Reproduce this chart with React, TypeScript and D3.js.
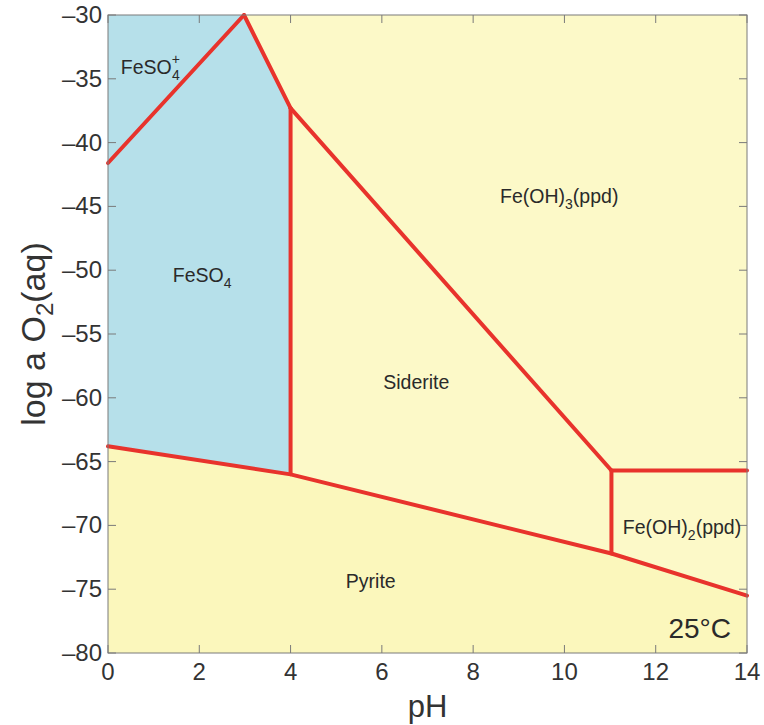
import React, { useRef, useEffect } from 'react';
import * as d3 from 'd3';

// boundary lines, [pH, log a O2(aq)]
const feso4PlusLine: [number, number][] = [[0, -41.6], [2.98, -30]];
const topBreakLine: [number, number][] = [[2.98, -30], [4, -37.3]];
const ph4Line: [number, number][] = [[4, -37.3], [4, -66.0]];
const sideriteOxLine: [number, number][] = [[4, -37.3], [11.03, -65.7]];
const feoh2TopLine: [number, number][] = [[11.03, -65.7], [14, -65.7]];
const feoh2LeftLine: [number, number][] = [[11.03, -65.7], [11.03, -72.2]];
const pyriteLine: [number, number][] = [[0, -63.8], [4, -66.0], [11.03, -72.2], [14, -75.5]];

// blue field (FeSO4+ and FeSO4)
const blueField: [number, number][] = [[0, -30], [2.98, -30], [4, -37.3], [4, -66.0], [0, -63.8]];

const xTicks = [0, 2, 4, 6, 8, 10, 12, 14];
const yTicks = [-30, -35, -40, -45, -50, -55, -60, -65, -70, -75, -80];

const fieldLabels = [
  { name: 'FeSO', sub: '4', sup: '+', pH: 0.28, o2: -34.6 },
  { name: 'FeSO', sub: '4', sup: '', pH: 1.42, o2: -50.9 },
  { name: 'Siderite', sub: '', sup: '', pH: 6.03, o2: -59.3 },
  { name: 'Fe(OH)', sub: '3', sup: '', pH: 8.59, o2: -44.7, tail: '(ppd)' },
  { name: 'Fe(OH)', sub: '2', sup: '', pH: 11.28, o2: -70.7, tail: '(ppd)' },
  { name: 'Pyrite', sub: '', sup: '', pH: 5.21, o2: -74.9 },
];

export default function App() {
  const svgRef = useRef<SVGSVGElement>(null);

  useEffect(() => {
    if (!svgRef.current) return;
    const svg = d3.select(svgRef.current);
    svg.selectAll('*').remove();

    const left = 108, right = 747, top = 15, bottom = 653;
    const x = d3.scaleLinear().domain([0, 14]).range([left, right]);
    const y = d3.scaleLinear().domain([-80, -30]).range([bottom, top]);
    const font = '"Liberation Sans", Arial, sans-serif';

    // background fields
    svg.append('rect')
      .attr('x', left).attr('y', top)
      .attr('width', right - left).attr('height', bottom - top)
      .attr('fill', '#fcf9c8');

    const pyriteField: [number, number][] = [...pyriteLine, [14, -80], [0, -80]];
    const area = d3.line<[number, number]>().x(d => x(d[0])).y(d => y(d[1]));
    svg.append('path').attr('d', area(pyriteField) + 'Z').attr('fill', '#fbf7bc');
    svg.append('path').attr('d', area(blueField) + 'Z').attr('fill', '#b6e0ea');

    // ticks, inward on all four sides
    const tickColor = '#7a7a7a';
    const g = svg.append('g');
    xTicks.forEach(t => {
      g.append('line').attr('x1', x(t)).attr('x2', x(t)).attr('y1', bottom).attr('y2', bottom - 8)
        .attr('stroke', tickColor);
      g.append('line').attr('x1', x(t)).attr('x2', x(t)).attr('y1', top).attr('y2', top + 8)
        .attr('stroke', tickColor);
      g.append('text').attr('x', x(t)).attr('y', bottom + 27)
        .attr('text-anchor', 'middle').attr('font-size', 24).attr('fill', '#333')
        .attr('font-family', font).text(t);
    });
    yTicks.forEach(t => {
      g.append('line').attr('x1', left).attr('x2', left + 8).attr('y1', y(t)).attr('y2', y(t))
        .attr('stroke', tickColor);
      g.append('line').attr('x1', right).attr('x2', right - 8).attr('y1', y(t)).attr('y2', y(t))
        .attr('stroke', tickColor);
      g.append('text').attr('x', left - 6).attr('y', y(t) + 8)
        .attr('text-anchor', 'end').attr('font-size', 24).attr('fill', '#333')
        .attr('font-family', font).text('\u2013' + Math.abs(t));
    });

    // boundaries
    const lines = [feso4PlusLine, topBreakLine, ph4Line, sideriteOxLine, feoh2TopLine, feoh2LeftLine, pyriteLine];
    lines.forEach(l => {
      svg.append('path').attr('d', area(l)).attr('fill', 'none')
        .attr('stroke', '#e8332c').attr('stroke-width', 4)
        .attr('stroke-linejoin', 'round').attr('stroke-linecap', 'round');
    });

    // frame
    svg.append('rect')
      .attr('x', left).attr('y', top)
      .attr('width', right - left).attr('height', bottom - top)
      .attr('fill', 'none').attr('stroke', tickColor).attr('stroke-width', 1);

    // field labels
    fieldLabels.forEach(f => {
      const t = svg.append('text').attr('x', x(f.pH)).attr('y', y(f.o2))
        .attr('font-size', 19.5).attr('fill', '#2a2a2a').attr('font-family', font);
      t.append('tspan').text(f.name);
      if (f.sub && f.sup) {
        t.append('tspan').attr('font-size', 14).attr('dy', -10).text(f.sup);
        t.append('tspan').attr('font-size', 14).attr('dx', -8).attr('dy', 16).text(f.sub);
      } else if (f.sub) {
        t.append('tspan').attr('font-size', 14).attr('dy', 6).text(f.sub);
        if (f.tail) t.append('tspan').attr('dy', -6).text(f.tail);
      }
    });

    svg.append('text').attr('x', 731).attr('y', 638).attr('text-anchor', 'end')
      .attr('font-size', 28).attr('fill', '#2a2a2a').attr('font-family', font).text('25°C');

    // axis titles
    svg.append('text').attr('x', (left + right) / 2).attr('y', 717).attr('text-anchor', 'middle')
      .attr('font-size', 31).attr('fill', '#333').attr('font-family', font).text('pH');

    const yl = svg.append('text')
      .attr('transform', `translate(45,${(top + bottom) / 2}) rotate(-90)`)
      .attr('text-anchor', 'middle').attr('font-size', 34).attr('fill', '#333').attr('font-family', font);
    yl.append('tspan').text('log a O');
    yl.append('tspan').attr('font-size', 24).attr('dy', 8).text('2');
    yl.append('tspan').attr('dy', -8).text('(aq)');
  }, []);

  return (
    <svg
      ref={svgRef}
      width={764}
      height={725}
      style={{ position: 'absolute', left: 0, top: 0, background: '#fff' }}
    />
  );
}
